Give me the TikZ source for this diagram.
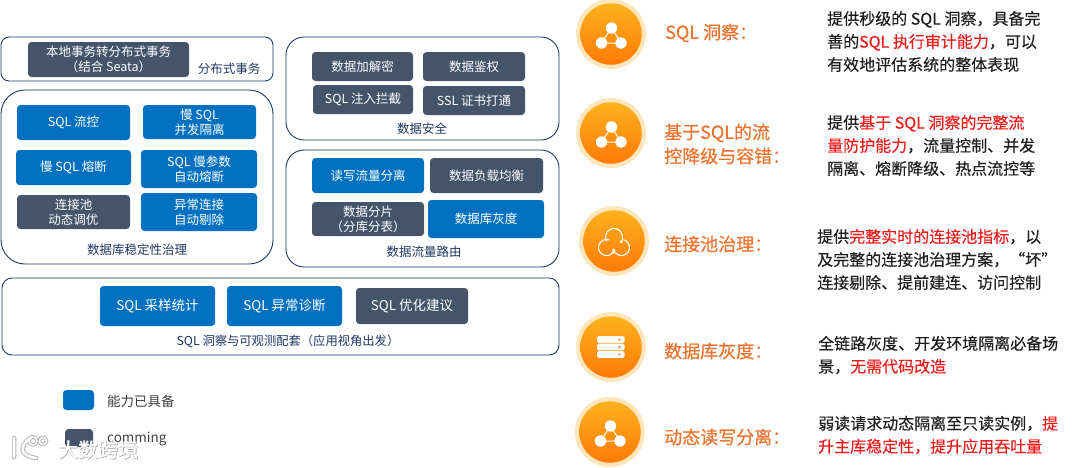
\documentclass[tikz,border=0pt]{standalone}
\usepackage{fontspec}
\setmainfont{Noto Sans CJK SC}
\newfontfamily\titlefont[FakeBold=0.6]{Noto Sans CJK SC}
\newfontfamily\bodyfont[FakeBold=0.2]{Noto Sans CJK SC}
\newfontfamily\shadowfont[FakeBold=2]{Noto Sans CJK SC}
\usetikzlibrary{shadings,arrows.meta}
\definecolor{bluebox}{HTML}{0070C0}
\definecolor{graybox}{HTML}{44546A}
\definecolor{navy}{HTML}{1F3864}
\definecolor{orangetxt}{HTML}{EE7430}
\definecolor{redtxt}{HTML}{F01A1A}
\definecolor{bodytxt}{HTML}{1E1E1E}
\definecolor{halo}{HTML}{FDE6BC}
\definecolor{gradtop}{HTML}{FDB21E}
\definecolor{gradbot}{HTML}{FF7A06}
\newcommand{\R}[1]{\textcolor{redtxt}{#1}}
\newcommand{\bx}[7]{\node[#2,minimum width={(#5-#3)*1pt},minimum height={(#6-#4)*1pt}] (#1) at ({(#3+#5)/2},{(#4+#6)/2}) {#7};}
\newcommand{\badge}[3]{%
  \node[haloc] (#1h) at (#2,#3) {};
  \node[innerc] (#1) at (#2,#3) {};}
\newcommand{\tripod}[3]{%
  \begin{scope}[shift={(#2,#3)}]
    \coordinate (#1a) at (0.5,-6);
    \coordinate (#1b) at (-9.5,9);
    \coordinate (#1c) at (10,9);
    \draw[white,line width=1pt] (#1a) -- (#1b) -- (#1c) -- cycle;
    \fill[white] (#1a) circle[radius=5.7] (#1b) circle[radius=5.7] (#1c) circle[radius=5.7];
  \end{scope}}
\tikzset{
  x=1pt,y=-1pt,
  outerbox/.style={draw=navy,line width=0.9pt,fill=white,inner sep=0pt},
  capbox/.style={rectangle,rounded corners=3.5pt,inner sep=0pt,align=center,text=white,font=\fontsize{12.5}{15}\selectfont},
  bluecap/.style={capbox,fill=bluebox},
  graycap/.style={capbox,fill=graybox},
  bigcap/.style={font=\fontsize{13.5}{15}\selectfont},
  grouplabel/.style={text=navy,inner sep=0pt,font=\fontsize{12.5}{15}\selectfont},
  legendlabel/.style={text=black!75,inner sep=0pt,anchor=west,font=\fontsize{13.5}{15}\selectfont},
  haloc/.style={circle,fill=halo,minimum size=70pt,inner sep=0pt},
  innerc/.style={circle,top color=gradtop,bottom color=gradbot,minimum size=61.5pt,inner sep=0pt},
  titletxt/.style={text=orangetxt,inner sep=0pt,anchor=west,align=left,font=\titlefont\fontsize{18}{24}\selectfont},
  bodytext/.style={text=bodytxt,inner sep=0pt,anchor=west,align=left,font=\bodyfont\fontsize{16}{23}\selectfont},
  markshadow/.style={text=black!38,inner sep=0pt,font=\shadowfont\fontsize{20}{22}\selectfont},
  markfront/.style={text=white,inner sep=0pt,font=\titlefont\fontsize{20}{22}\selectfont},
  swirl/.style={white,line width=1.1pt,-{Stealth[length=3pt,width=3.5pt]}},
}
\begin{document}
\begin{tikzpicture}
\useasboundingbox (0,0) rectangle (1080,467);
\fill[white] (0,0) rectangle (1080,467);
% outer groups
\bx{gtx}{outerbox,rectangle,rounded corners=8pt}{1}{37}{273}{81}{}
\bx{gstab}{outerbox,rectangle,rounded corners=24pt}{1}{90}{273}{264}{}
\bx{gsec}{outerbox,rectangle,rounded corners=18pt}{286}{37}{559}{140}{}
\bx{grout}{outerbox,rectangle,rounded corners=18pt}{286}{150}{559}{267}{}
\bx{gsql}{outerbox,rectangle,rounded corners=10pt}{2}{278}{559}{355}{}
% distributed tx
\bx{b1}{graycap}{28}{42}{189}{77}{本地事务转分布式事务\\（结合 Seata）}
\node[grouplabel] (l1) at (229,69) {分布式事务};
% stability
\bx{s1}{bluecap}{17}{105}{130}{140}{SQL 流控}
\bx{s2}{bluecap}{143}{105}{256}{139}{慢 SQL\\并发隔离}
\bx{s3}{bluecap}{16}{150}{131}{185}{慢 SQL 熔断}
\bx{s4}{bluecap}{141}{150}{257}{188}{SQL 慢参数\\自动熔断}
\bx{s5}{graycap}{17}{195}{130}{229}{连接池\\动态调优}
\bx{s6}{bluecap}{141}{193}{257}{231}{异常连接\\自动剔除}
\node[grouplabel] (l2) at (137,250) {数据库稳定性治理};
% security
\bx{c1}{graycap}{312}{52}{413}{81}{数据加解密}
\bx{c2}{graycap}{423}{52}{525}{81}{数据鉴权}
\bx{c3}{graycap}{313}{85}{413}{114}{SQL 注入拦截}
\bx{c4}{graycap}{423}{86}{525}{115}{SSL 证书打通}
\node[grouplabel] (l3) at (422,129) {数据安全};
% routing
\bx{r1}{bluecap}{312}{158}{424}{193}{读写流量分离}
\bx{r2}{graycap}{430}{158}{543}{193}{数据负载均衡}
\bx{r3}{graycap}{312}{202}{424}{236}{数据分片\\（分库分表）}
\bx{r4}{bluecap}{428}{200}{544}{238}{数据库灰度}
\node[grouplabel] (l4) at (424,252) {数据流量路由};
% sql
\bx{q1}{bluecap,bigcap}{100}{286}{215}{326}{SQL 采样统计}
\bx{q2}{bluecap,bigcap}{227}{286}{342}{326}{SQL 异常诊断}
\bx{q3}{graycap,bigcap}{356}{288}{468}{324}{SQL 优化建议}
\node[grouplabel,font=\fontsize{12.3}{15}\selectfont] (l5) at (288,341) {SQL 洞察与可观测配套（应用视角出发）};
% legend
\bx{k1}{bluecap}{63}{390}{94}{410}{}
\node[legendlabel] (k1t) at (107,401) {能力已具备};
\bx{k2}{graycap}{65}{429}{93}{447}{}
\node[legendlabel] (k2t) at (107,439) {comming};
% watermark
\begin{scope}
  \draw[black!30,line width=4.5pt,line cap=round] (14,438) -- (14,457) (32,437) .. controls (18,446) and (20,456) .. (36,458);
  \draw[black!30,line width=3.4pt] (33,441) circle[radius=4] (43,441) circle[radius=3.6];
  \draw[white,line width=2.6pt,line cap=round] (14,438) -- (14,457) (32,437) .. controls (18,446) and (20,456) .. (36,458);
  \draw[white,line width=1.5pt] (33,441) circle[radius=4] (43,441) circle[radius=3.6];
\end{scope}
\node[markshadow,anchor=west] (wm0) at (58.5,450) {大数跨境};
\node[markfront,anchor=west] (wm) at (58,449.5) {大数跨境};
% badges
\badge{i1}{611}{34}
\tripod{t1}{611}{34}
\badge{i2}{611}{133}
\tripod{t2}{611}{133}
\badge{i3}{614}{241}
\begin{scope}[shift={(614,241)}]
  \draw[swirl] (0,-4) ++(150:8.5) arc[start angle=150,end angle=405,radius=8.5];
  \draw[swirl] (-7.5,6.5) ++(290:8) arc[start angle=290,end angle=25,radius=8];
  \draw[swirl] (7.5,6.5) ++(285:8) arc[start angle=285,end angle=535,radius=8];
\end{scope}
\badge{i4}{611}{347}
\begin{scope}[shift={(611,347)}]
  \fill[white,rounded corners=1.5pt] (-14,-10.8) rectangle (13.5,-4.2) (-14,-3.3) rectangle (13.5,3.3) (-14,4.2) rectangle (13.5,10.8);
  \fill[orangetxt] (8.5,-7.5) circle[radius=1.2] (8.5,0) circle[radius=1.2] (8.5,7.5) circle[radius=1.2];
\end{scope}
\badge{i5}{610}{432}
\tripod{t5}{610}{432}
% titles
\node[titletxt] (h1) at (665,33) {SQL 洞察：};
\node[titletxt] (h2) at (664,144) {基于SQL的流\\控降级与容错：};
\node[titletxt] (h3) at (664,244) {连接池治理：};
\node[titletxt] (h4) at (664,351) {数据库灰度：};
\node[titletxt] (h5) at (664,437) {动态读写分离：};
% descriptions
\node[bodytext] (d1) at (827,41.5) {提供秒级的 SQL 洞察，具备完\\善的\R{SQL 执行审计能力}，可以\\有效地评估系统的整体表现};
\node[bodytext] (d2) at (827,145.5) {提供\R{基于 SQL 洞察的完整流}\\\R{量防护能力}，流量控制、并发\\隔离、熔断降级、热点流控等};
\node[bodytext] (d3) at (817,259.5) {提供\R{完整实时的连接池指标}，以\\及完整的连接池治理方案，“坏”\\连接剔除、提前建连、访问控制};
\node[bodytext] (d4) at (818,355) {全链路灰度、开发环境隔离必备场\\景，\R{无需代码改造}};
\node[bodytext] (d5) at (818,435) {弱读请求动态隔离至只读实例，\R{提}\\\R{升主库稳定性，提升应用吞吐量}};
\end{tikzpicture}
\end{document}
